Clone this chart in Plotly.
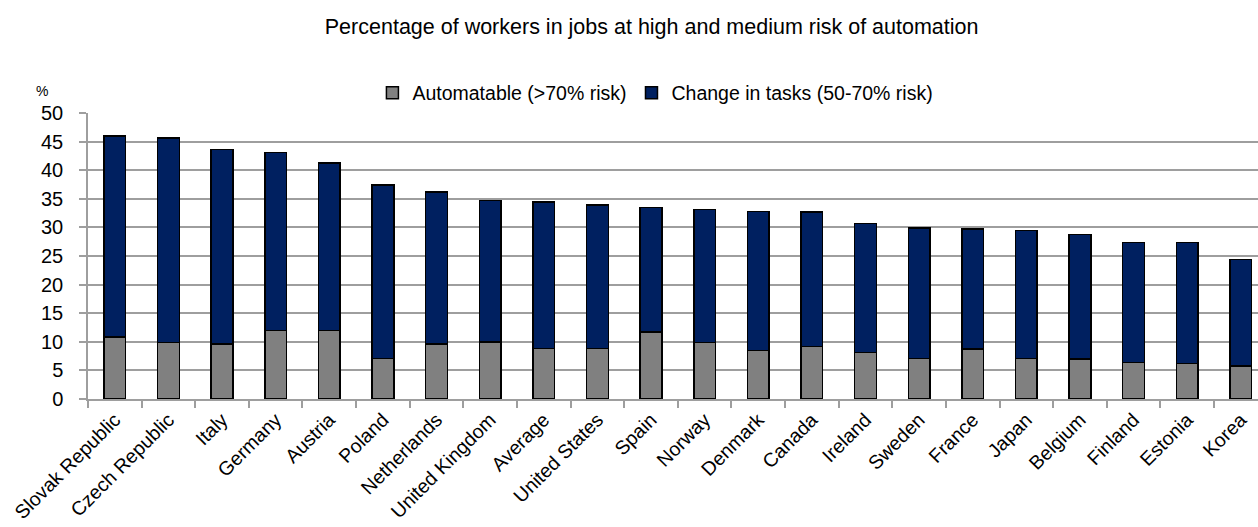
import plotly.graph_objects as go

countries = ["Slovak Republic", "Czech Republic", "Italy", "Germany", "Austria", "Poland",
             "Netherlands", "United Kingdom", "Average", "United States", "Spain", "Norway",
             "Denmark", "Canada", "Ireland", "Sweden", "France", "Japan", "Belgium", "Finland",
             "Estonia", "Korea"]
automatable = [10.8, 9.9, 9.6, 12.0, 12.0, 7.1, 9.6, 10.0, 8.8, 8.8, 11.7, 9.9,
               8.5, 9.2, 8.1, 7.1, 8.7, 7.1, 7.0, 6.4, 6.2, 5.8]
change_in_tasks = [35.2, 35.7, 34.0, 31.1, 29.3, 30.3, 26.6, 24.7, 25.6, 25.1, 21.8, 23.2,
                   24.3, 23.5, 22.6, 22.8, 21.0, 22.4, 21.8, 21.0, 21.2, 18.6]
y_ticks = [0, 5, 10, 15, 20, 25, 30, 35, 40, 45, 50]

FONT = "Liberation Sans, Arial, sans-serif"
GRID = "#9e9e9e"

fig = go.Figure()
fig.add_trace(go.Bar(
    x=countries, y=automatable, name="Automatable (>70% risk)",
    marker=dict(color="#808080", line=dict(color="#000000", width=1.5)),
    width=0.405,
))
fig.add_trace(go.Bar(
    x=countries, y=change_in_tasks, name="Change in tasks (50-70% risk)",
    marker=dict(color="#002060", line=dict(color="#000000", width=1.5)),
    width=0.405,
))

fig.update_layout(
    barmode="stack",
    width=1258, height=527,
    margin=dict(l=87.5, r=0, t=113.3, b=127.5, pad=0),
    paper_bgcolor="white", plot_bgcolor="white",
    font=dict(family=FONT, size=19.5, color="#000000"),
    title=dict(
        text="Percentage of workers in jobs at high and medium risk of automation",
        x=0.518, xanchor="center", xref="container",
        y=0.949, yanchor="middle", yref="container",
        font=dict(family=FONT, size=21.5, color="#000000"),
    ),
    legend=dict(
        orientation="h", xref="container", yref="container",
        x=0.521, xanchor="center", y=0.8235, yanchor="middle",
        font=dict(family=FONT, size=19.5, color="#000000"),
        traceorder="normal", itemwidth=30, bgcolor="rgba(0,0,0,0)",
    ),
    showlegend=True,
    xaxis=dict(
        type="category", range=[-0.5, 21.32], automargin=False,
        tickangle=-45, tickson="boundaries", ticks="outside", ticklen=7,
        tickcolor=GRID, tickwidth=1.5,
        showline=True, linecolor=GRID, linewidth=1.5,
        showgrid=False, tickfont=dict(family=FONT, size=19.5, color="#000000"),
    ),
    yaxis=dict(
        range=[0, 50], tickvals=y_ticks, ticks="outside", ticklen=7, automargin=False,
        tickcolor=GRID, tickwidth=1.5,
        showline=True, linecolor=GRID, linewidth=1.5,
        showgrid=True, gridcolor=GRID, gridwidth=1.5, zeroline=False,
        tickfont=dict(family=FONT, size=20, color="#000000"),
        ticklabelstandoff=12,
    ),
    annotations=[dict(
        text="%", xref="paper", yref="paper", x=-0.0393, y=1.078,
        xanchor="center", yanchor="middle", showarrow=False,
        font=dict(family=FONT, size=14, color="#000000"),
    )],
)

fig.write_html(
    "out.html",
    config={"displayModeBar": False},
    post_script="document.body.style.margin='0px';document.body.style.overflow='hidden';",
)
